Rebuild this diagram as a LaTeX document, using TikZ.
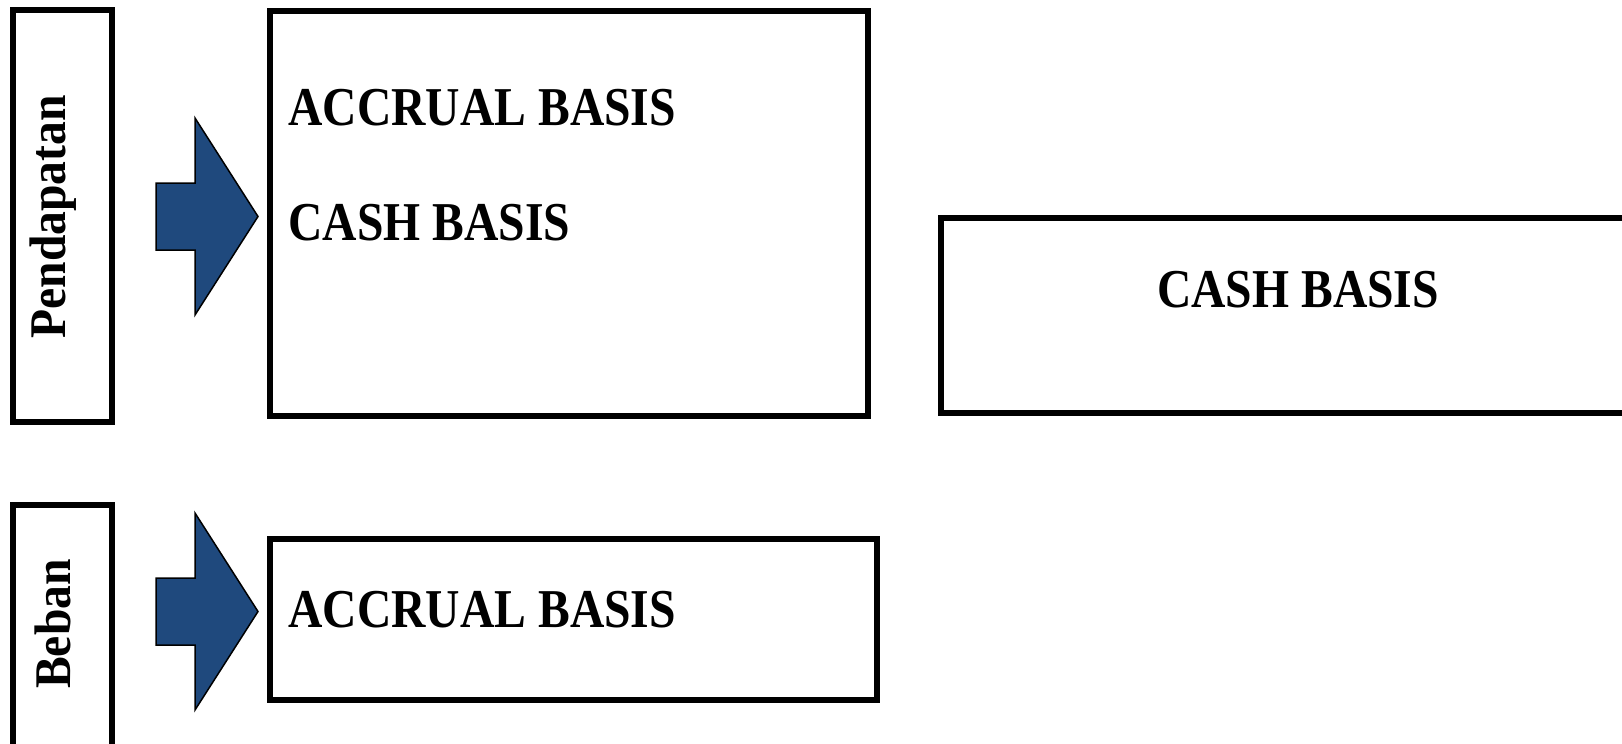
\documentclass[tikz,border=0pt]{standalone}
\usepackage{fontspec}
\setmainfont{Liberation Serif}
\usepackage{graphicx}
\usepackage{xcolor}
\definecolor{arrowBlue}{RGB}{31,73,125}
\newcommand{\tallText}[1]{\scalebox{1}[1.15]{#1}}
\newcommand{\blockArrow}[1] {
    \draw[fill=arrowBlue,line width=0.75pt,line join=miter]
        (156,{#1-33.5}) -- (195,{#1-33.5}) -- (195,{#1-98.5}) -- (258,#1)
        -- (195,{#1+98.5}) -- (195,{#1+33.5}) -- (156,{#1+33.5}) -- cycle;
}
\tikzset{
    boxline/.style={draw,line width=3.3pt},
    basisText/.style={inner sep=0,font=\fontsize{23.8}{28}\selectfont\bfseries},
    sideText/.style={inner sep=0,rotate=90,font=\fontsize{23.8}{28}\selectfont\bfseries},
}

\begin{document}
\begin{tikzpicture}[x=0.5pt,y=-0.5pt]
        \useasboundingbox (0,0) rectangle (1622,744);
        \draw[boxline] (13,10) rectangle (112,422);
        \draw[boxline] (13,505) rectangle (112,770);
        \draw[boxline] (270,11) rectangle (868,416);
        \draw[boxline] (941,218) rectangle (1630,413);
        \draw[boxline] (270,539) rectangle (877,700);
        \blockArrow{216.5};
        \blockArrow{611.5};
        \node[sideText] (pendapatan) at (53,217) {\scalebox{1}[1.08]{Pendapatan}};
        \node[sideText] (beban) at (53,624) {\scalebox{1}[1.08]{Beban}};
        \node[basisText,anchor=base west] (pendAccrual) at (288,125) {\tallText{ACCRUAL BASIS}};
        \node[basisText,anchor=base west] (pendCash) at (288,240) {\tallText{CASH BASIS}};
        \node[basisText,anchor=base] (rightCash) at (1298,307) {\tallText{CASH BASIS}};
        \node[basisText,anchor=base west] (bebanAccrual) at (288,627) {\tallText{ACCRUAL BASIS}};
    \end{tikzpicture}
\end{document}
